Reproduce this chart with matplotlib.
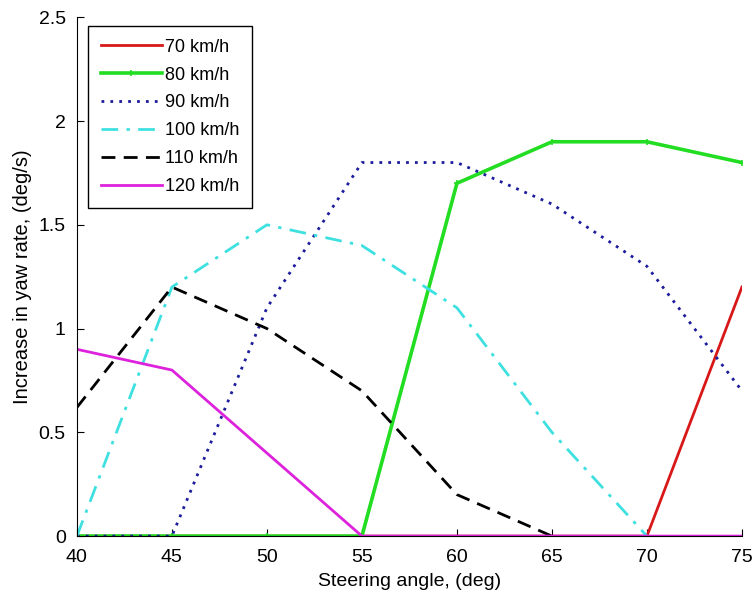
import numpy as np
import matplotlib
matplotlib.use('Agg')
import matplotlib.pyplot as plt

plt.rcParams['font.family'] = ['Liberation Sans', 'DejaVu Sans']

# Lenkwinkel in Grad
angle = [40, 45, 50, 55, 60, 65, 70, 75]

# Zunahme der Giergeschwindigkeit je Fahrgeschwindigkeit
v70 = [0, 0, 0, 0, 0, 0, 0, 1.2]
v80 = [0, 0, 0, 0, 1.7, 1.9, 1.9, 1.8]
v90 = [0, 0, 1.1, 1.8, 1.8, 1.6, 1.3, 0.7]
v100 = [0, 1.2, 1.5, 1.4, 1.1, 0.5, 0]
v110 = [0.62, 1.2, 1.0, 0.7, 0.2, 0]
v120 = [0.9, 0.8, 0.4, 0, 0, 0, 0, 0]

fig = plt.figure(figsize=(7.54, 5.95), dpi=100)
ax = fig.add_axes([0.102, 0.099, 0.882, 0.872])

ax.plot(angle, v70, color='#d81818', lw=2, label='70 km/h')
ax.plot(angle, v80, color='#22dd22', lw=2.6, marker='+', ms=5, mew=1.2, label='80 km/h')
ax.plot(angle, v90, color='#1c1c9c', lw=2, ls=(0, (1, 2.2)), label='90 km/h')
ax.plot(angle[:len(v100)], v100, color='#3ee0e0', lw=2, ls=(0, (6, 3, 1.2, 3)), label='100 km/h')
ax.plot(angle[:len(v110)], v110, color='black', lw=2, ls=(0, (5, 3)), label='110 km/h')
ax.plot(angle, v120, color='#dd22dd', lw=2, label='120 km/h')

ax.set_xlim(40, 75)
ax.set_ylim(0, 2.5)
ax.set_xticks([40, 45, 50, 55, 60, 65, 70, 75])
ax.set_yticks([0, 0.5, 1, 1.5, 2, 2.5])
ax.set_yticklabels(['0', '0.5', '1', '1.5', '2', '2.5'])
ax.tick_params(direction='in', length=5, labelsize=14, colors='black')
ax.tick_params(axis='y', pad=8)
ax.tick_params(axis='x', pad=9)
ax.spines['top'].set_visible(False)
ax.spines['right'].set_visible(False)

ax.set_xlabel('Steering angle, (deg)', fontsize=14, labelpad=5)
ax.set_ylabel('Increase in yaw rate, (deg/s)', fontsize=14.5, labelpad=5)

leg = ax.legend(loc='upper left', bbox_to_anchor=(0.0165, 0.983), fontsize=13,
                handlelength=3.4, handletextpad=0.15, labelspacing=0.6,
                borderpad=0.7, borderaxespad=0, fancybox=False,
                framealpha=1, edgecolor='black')
leg.get_frame().set_linewidth(1)

fig.savefig('out.png', dpi=100)
